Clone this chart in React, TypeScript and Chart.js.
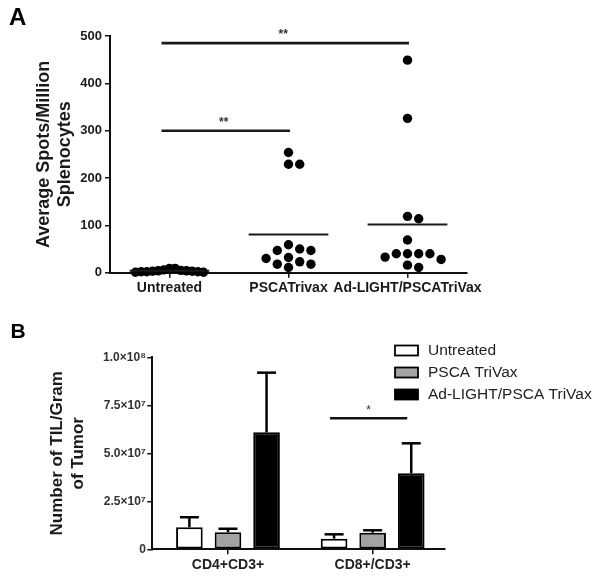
import React, { useEffect, useRef } from "react";
import { Chart, registerables } from "chart.js";
Chart.register(...registerables);

const FONT = "'Liberation Sans', Arial, Helvetica, sans-serif";

// ---------- Panel A data ----------
const groupsA = ["Untreated", "PSCATrivax", "Ad-LIGHT/PSCATriVax"];
const untreatedSpots = [9, 4, 2, 6, 3, 1, 2, 4, 1, 3, 5, 2, 9];
const pscaSpots = [254, 229, 229, 59, 47, 47, 50, 30, 18, 11, 18, 23, 32];
const adLightSpots = [449, 326, 119, 114, 69, 40, 40, 28, 40, 40, 33, 11, 16];
const spotTicks = [0, 100, 200, 300, 400, 500];
const sigFromA = [0, 0];
const sigToA = [2, 1];
const sigYA = [485, 300];
const sigTextA = ["**", "**"];

// ---------- Panel B data ----------
const subsets = ["CD4+CD3+", "CD8+/CD3+"];
const treatments = ["Untreated", "PSCA TriVax", "Ad-LIGHT/PSCA TriVax"];
const untreatedTIL = [1.15e7, 0.55e7];
const untreatedErr = [0.52e7, 0.23e7];
const pscaTIL = [0.89e7, 0.86e7];
const pscaErr = [0.18e7, 0.13e7];
const adLightTIL = [6.09e7, 3.96e7];
const adLightErr = [3.11e7, 1.56e7];
const tilTicks = [0, 2.5e7, 5e7, 7.5e7, 1e8];
const tilTickLabels = ["0", "2.5×10⁷", "5.0×10⁷", "7.5×10⁷", "1.0×10⁸"];
const sigSubsetB = 1;
const sigYB = 6.82e7;
const sigTextB = "*";

const barFill = ["#ffffff", "#a3a3a3", "#000000"];

function strokeLine(ctx: CanvasRenderingContext2D, x1: number, y1: number, x2: number, y2: number) {
  ctx.beginPath();
  ctx.moveTo(x1, y1);
  ctx.lineTo(x2, y2);
  ctx.stroke();
}

const annotA = {
  id: "annotA",
  afterDraw(chart: any) {
    const { ctx } = chart;
    const x = chart.scales.x;
    const y = chart.scales.y;
    const step = x.getPixelForValue(2) - x.getPixelForValue(1);
    ctx.save();
    ctx.strokeStyle = "#1a1a1a";
    ctx.lineWidth = 2;
    [untreatedSpots, pscaSpots, adLightSpots].forEach((vals, gi) => {
      const m = vals.reduce((a, b) => a + b, 0) / vals.length;
      const cx = x.getPixelForValue(gi + 1);
      const py = y.getPixelForValue(m);
      strokeLine(ctx, cx - 0.335 * step, py, cx + 0.335 * step, py);
    });
    ctx.lineWidth = 2.6;
    ctx.fillStyle = "#333";
    ctx.font = `bold 12px ${FONT}`;
    ctx.textAlign = "center";
    ctx.textBaseline = "alphabetic";
    sigFromA.forEach((f, k) => {
      const x1 = x.getPixelForValue(f + 1) - 8;
      const x2 = x.getPixelForValue(sigToA[k] + 1) + 1.5;
      const py = y.getPixelForValue(sigYA[k]);
      strokeLine(ctx, x1, py, x2, py);
      ctx.fillText(sigTextA[k], (x1 + x2) / 2 - 2, py - 5);
    });
    ctx.restore();
  },
};

const annotB = {
  id: "annotB",
  afterDraw(chart: any) {
    const { ctx } = chart;
    const y = chart.scales.y;
    const series = [untreatedTIL, pscaTIL, adLightTIL];
    const errs = [untreatedErr, pscaErr, adLightErr];
    ctx.save();
    ctx.strokeStyle = "#000";
    ctx.lineWidth = 2.5;
    series.forEach((vals, i) => {
      const meta = chart.getDatasetMeta(i);
      meta.data.forEach((bar: any, j: number) => {
        const top = y.getPixelForValue(vals[j] + errs[i][j]);
        strokeLine(ctx, bar.x, bar.y, bar.x, top);
        strokeLine(ctx, bar.x - 9.5, top, bar.x + 9.5, top);
      });
    });
    // significance bracket
    const b0 = chart.getDatasetMeta(0).data[sigSubsetB];
    const b2 = chart.getDatasetMeta(2).data[sigSubsetB];
    const x1 = b0.x - 4;
    const x2 = b2.x - 4;
    const py = y.getPixelForValue(sigYB);
    ctx.strokeStyle = "#111";
    strokeLine(ctx, x1, py, x2, py);
    ctx.fillStyle = "#333";
    ctx.font = `12px ${FONT}`;
    ctx.textAlign = "center";
    ctx.textBaseline = "alphabetic";
    ctx.fillText(sigTextB, (x1 + x2) / 2, py - 4);
    // legend
    const lx = chart.chartArea.right - 50;
    const ly = 50.5;
    ctx.font = `15.5px ${FONT}`;
    ctx.textAlign = "left";
    ctx.textBaseline = "middle";
    chart.data.datasets.forEach((ds: any, i: number) => {
      const cy = ly + i * 22;
      ctx.fillStyle = ds.backgroundColor;
      ctx.fillRect(lx, cy - 5, 23, 10);
      ctx.lineWidth = 1.8;
      ctx.strokeStyle = "#000";
      ctx.strokeRect(lx, cy - 5, 23, 10);
      ctx.fillStyle = "#222";
      ctx.fillText(ds.label, lx + 33, cy);
    });
    ctx.restore();
  },
};

function swarm(chart: any, groups: number[][]) {
  const xs = chart.scales.x;
  const ys = chart.scales.y;
  const pxPerCat = xs.getPixelForValue(2) - xs.getPixelForValue(1);
  const step = 11.2;
  const D = 9.6;
  const maxHalf = 34;
  groups.forEach((vals, gi) => {
    const order = vals.map((_, i) => i).sort((a, b) => vals[b] - vals[a]);
    const offs = new Array(vals.length).fill(0);
    const placed: { dx: number; py: number }[] = [];
    order.forEach((i) => {
      const py = ys.getPixelForValue(vals[i]);
      for (let k = 0; k < 60; k++) {
        const c = k === 0 ? 0 : k % 2 ? (k + 1) / 2 : -k / 2;
        const dx = c * step;
        if (placed.every((p) => Math.hypot(p.dx - dx, p.py - py) >= D)) {
          offs[i] = dx;
          placed.push({ dx, py });
          break;
        }
      }
    });
    const maxAbs = Math.max(...offs.map((o) => Math.abs(o)));
    const s = maxAbs > maxHalf ? maxHalf / maxAbs : 1;
    chart.data.datasets[gi].data = vals.map((v, i) => ({ x: gi + 1 + (offs[i] * s) / pxPerCat, y: v }));
  });
  chart.update();
}

function buildA(canvas: HTMLCanvasElement) {
  const groups = [untreatedSpots, pscaSpots, adLightSpots];
  const chart = new Chart(canvas, {
    type: "scatter",
    data: {
      datasets: groups.map((vals, gi) => ({
        label: groupsA[gi],
        data: vals.map((v) => ({ x: gi + 1, y: v })),
        backgroundColor: "#000",
        borderColor: "#000",
        borderWidth: 0,
        pointRadius: 4.7,
        pointHoverRadius: 4.7,
        clip: false as any,
      })),
    },
    options: {
      responsive: false,
      animation: false,
      events: [],
      layout: { padding: { left: 0, right: 134, top: 36, bottom: 0 } },
      plugins: { legend: { display: false }, tooltip: { enabled: false } },
      scales: {
        x: {
          type: "linear",
          min: 0.5,
          max: 3.5,
          afterBuildTicks: (s: any) => {
            s.ticks = groupsA.map((_, i) => ({ value: i + 1 }));
          },
          afterFit: (s: any) => {
            s.height = 27.3;
          },
          ticks: {
            callback: (v: any) => groupsA[Math.round(v) - 1] ?? "",
            font: { family: FONT, size: 14, weight: "bold" },
            color: "#1a1a1a",
            padding: 2,
            maxRotation: 0,
            autoSkip: false,
          },
          grid: { display: true, drawOnChartArea: false, drawTicks: true, tickLength: 5, color: "#111", lineWidth: 1.5 },
          border: { display: true, color: "#111", width: 2 },
        },
        y: {
          type: "linear",
          min: 0,
          max: 500,
          afterBuildTicks: (s: any) => {
            s.ticks = spotTicks.map((v) => ({ value: v }));
          },
          afterFit: (s: any) => {
            s.width = 110;
          },
          ticks: {
            font: { family: FONT, size: 13, weight: "bold" },
            color: "#1a1a1a",
            padding: 3,
          },
          grid: { display: true, drawOnChartArea: false, drawTicks: true, tickLength: 5, color: "#111", lineWidth: 1.5 },
          border: { display: true, color: "#111", width: 2 },
          title: {
            display: true,
            text: ["Average Spots/Million", "Splenocytes"],
            font: { family: FONT, size: 18, weight: "bold", lineHeight: 1.15 },
            color: "#1a1a1a",
            padding: { top: 33.6, bottom: 0 },
          },
        },
      },
    } as any,
    plugins: [annotA],
  });
  swarm(chart, groups);
  return chart;
}

function buildB(canvas: HTMLCanvasElement) {
  const series = [untreatedTIL, pscaTIL, adLightTIL];
  const chart = new Chart(canvas, {
    type: "bar",
    data: {
      datasets: series.map((vals, i) => ({
        label: treatments[i],
        data: vals.map((v, j) => ({ x: j + 1, y: v })),
        backgroundColor: barFill[i],
        borderColor: "#000",
        borderWidth: 2,
        borderSkipped: false,
        categoryPercentage: 0.8,
        barPercentage: 0.69,
      })),
    },
    options: {
      responsive: false,
      animation: false,
      events: [],
      layout: { padding: { left: 0, right: 156, top: 57.3, bottom: 0 } },
      plugins: { legend: { display: false }, tooltip: { enabled: false } },
      scales: {
        x: {
          type: "linear",
          min: 0.477,
          max: 2.5,
          offset: false,
          afterBuildTicks: (s: any) => {
            s.ticks = subsets.map((_, i) => ({ value: i + 1 }));
          },
          afterFit: (s: any) => {
            s.height = 26.7;
          },
          ticks: {
            callback: (v: any) => subsets[Math.round(v) - 1] ?? "",
            font: { family: FONT, size: 14, weight: "bold" },
            color: "#222",
            padding: 2,
            maxRotation: 0,
            autoSkip: false,
          },
          grid: { display: true, drawOnChartArea: false, offset: false, drawTicks: true, tickLength: 5, color: "#111", lineWidth: 1.5 },
          border: { display: true, color: "#111", width: 2 },
        },
        y: {
          type: "linear",
          min: 0,
          max: 1e8,
          afterBuildTicks: (s: any) => {
            s.ticks = tilTicks.map((v) => ({ value: v }));
          },
          afterFit: (s: any) => {
            s.width = 152.3;
          },
          ticks: {
            callback: (_v: any, i: number) => tilTickLabels[i],
            font: { family: FONT, size: 12, weight: "bold" },
            color: "#333",
            padding: 1.5,
          },
          grid: { display: true, drawOnChartArea: false, drawTicks: true, tickLength: 5, color: "#111", lineWidth: 1.5 },
          border: { display: true, color: "#111", width: 2 },
          title: {
            display: true,
            text: ["Number of TIL/Gram", "of Tumor"],
            font: { family: FONT, size: 17, weight: "bold", lineHeight: 1.25 },
            color: "#1a1a1a",
            padding: { top: 46.4, bottom: 0 },
          },
        },
      },
    } as any,
    plugins: [annotB],
  });
  return chart;
}

export default function App() {
  const refA = useRef<HTMLCanvasElement>(null);
  const refB = useRef<HTMLCanvasElement>(null);
  useEffect(() => {
    const a = buildA(refA.current!);
    const b = buildB(refB.current!);
    return () => {
      a.destroy();
      b.destroy();
    };
  }, []);
  return (
    <div style={{ position: "absolute", left: 0, top: 0, width: 601, height: 576, background: "#fff", overflow: "hidden" }}>
      <canvas ref={refA} width={601} height={300} style={{ position: "absolute", left: 0, top: 0 }} />
      <canvas ref={refB} width={601} height={276} style={{ position: "absolute", left: 0, top: 300 }} />
      <div style={{ position: "absolute", left: 9, top: 5, font: `bold 24px ${FONT}`, lineHeight: "24px", color: "#000" }}>A</div>
      <div style={{ position: "absolute", left: 10.5, top: 320, font: `bold 21px ${FONT}`, lineHeight: "21px", color: "#000" }}>B</div>
    </div>
  );
}
